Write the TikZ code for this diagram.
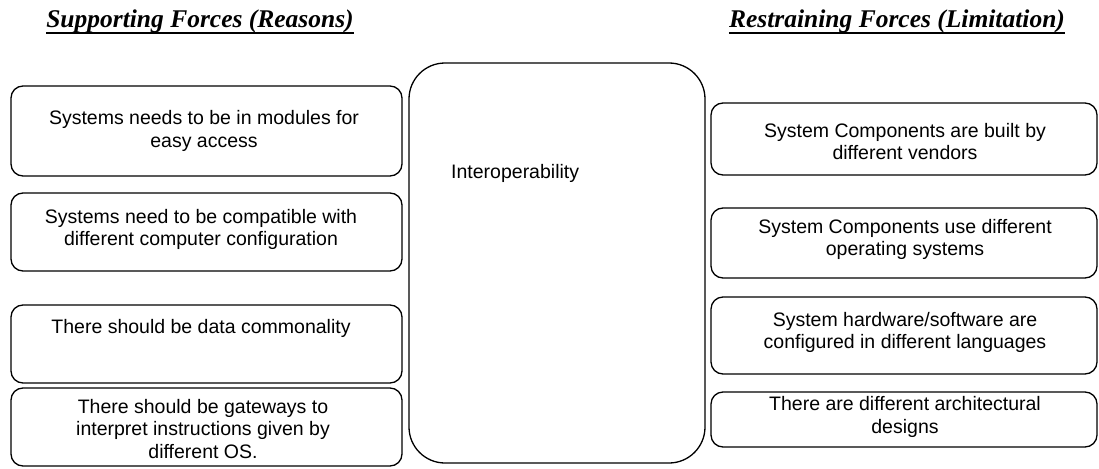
\documentclass[tikz,border=0pt]{standalone}
\usepackage{fontspec}
\setmainfont{Liberation Sans}
\newfontfamily\headfont{Liberation Serif}
\begin{document}
\begin{tikzpicture}[x=1pt,y=-1pt,
  fbox/.style={draw, line width=1.3pt, rounded corners=12pt, inner sep=0pt},
  btext/.style={align=center, inner sep=0pt, font=\fontsize{19.5}{22.5}\selectfont},
  head/.style={inner sep=0pt, anchor=base, font=\headfont\fontsize{25.5}{28}\selectfont\bfseries\itshape}]
\useasboundingbox (0,0) rectangle (1099,468);

% column headings
\node[head] (hl) at (200,28) {Supporting Forces (Reasons)};
\node[head] (hr) at (897,28) {Restraining Forces (Limitation)};
\draw[line width=1.3pt] ([yshift=-5pt]hl.base west) -- ([yshift=-5pt]hl.base east);
\draw[line width=1.3pt] ([yshift=-5pt]hr.base west) -- ([yshift=-5pt]hr.base east);

% central force field
\node[fbox, rounded corners=36pt, minimum width=296pt, minimum height=400pt] (mid) at (557,263) {};
\node[btext, anchor=west] (midt) at (451,173) {Interoperability};

% supporting forces
\node[fbox, minimum width=391pt, minimum height=90pt] (l1) at (206.5,131) {};
\node[fbox, minimum width=391pt, minimum height=78pt] (l2) at (206.5,232) {};
\node[fbox, minimum width=391pt, minimum height=78pt] (l3) at (206.5,344) {};
\node[fbox, minimum width=391pt, minimum height=78pt] (l4) at (206.5,427) {};
\node[btext] (l1t) at (204,131) {Systems needs to be in modules for\\easy access};
\node[btext] (l2t) at (201,229.5) {Systems need to be compatible with\\different computer configuration};
\node[btext] (l3t) at (201,328) {There should be data commonality};
\node[btext] (l4t) at (203,429) {There should be gateways to\\interpret instructions given by\\different OS.};

% restraining forces
\node[fbox, minimum width=386pt, minimum height=72pt] (r1) at (904,139) {};
\node[fbox, minimum width=386pt, minimum height=70pt] (r2) at (904,243) {};
\node[fbox, minimum width=386pt, minimum height=77pt] (r3) at (904,335.5) {};
\node[fbox, minimum width=386pt, minimum height=55pt] (r4) at (904,419.5) {};
\node[btext] (r1t) at (905,141.5) {System Components are built by\\different vendors};
\node[btext] (r2t) at (905,239.5) {System Components use different\\operating systems};
\node[btext] (r3t) at (905,332.5) {System hardware/software are\\configured in different languages};
\node[btext] (r4t) at (905,417) {There are different architectural\\designs};
\end{tikzpicture}
\end{document}
